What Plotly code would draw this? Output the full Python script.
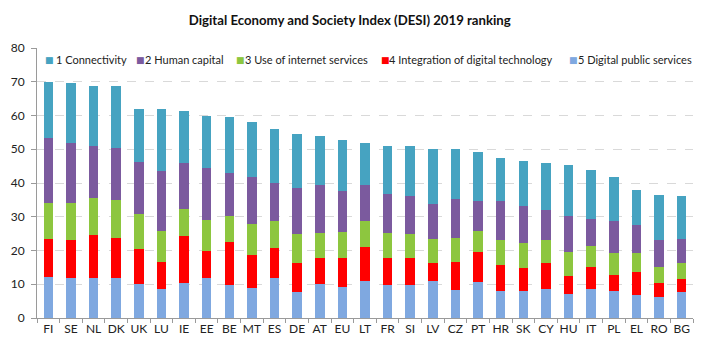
import plotly.graph_objects as go

countries = ["FI","SE","NL","DK","UK","LU","IE","EE","BE","MT","ES","DE","AT","EU","LT",
             "FR","SI","LV","CZ","PT","HR","SK","CY","HU","IT","PL","EL","RO","BG"]

digital_public = [12.1,11.8,11.8,11.8,10.0,8.6,10.4,11.8,9.7,9.0,11.8,7.6,10.0,9.3,11.1,
                  9.7,9.7,11.1,8.3,10.7,7.9,7.9,8.6,7.2,8.6,7.9,6.9,6.2,7.6]
integration = [11.4,11.4,12.7,12.0,10.4,8.0,13.8,8.0,12.8,9.7,8.9,8.7,7.7,8.4,10.0,
               8.0,8.0,5.2,8.4,8.8,7.7,7.0,7.7,5.3,6.6,4.9,6.6,4.3,3.9]
internet_use = [10.6,10.9,11.0,11.3,10.3,9.3,8.2,9.1,7.8,9.3,7.9,8.6,7.5,7.9,7.5,
                7.5,7.2,7.2,7.1,6.4,7.5,7.2,6.8,7.2,6.2,6.6,5.9,4.7,4.8]
human_capital = [19.2,17.8,15.4,15.2,15.4,17.6,13.4,15.5,12.8,13.8,11.4,13.7,14.1,11.9,10.7,
                 11.6,11.2,10.3,11.4,8.9,11.7,11.0,8.9,10.6,7.9,9.2,8.3,8.0,7.2]
connectivity = [16.6,17.6,17.9,18.5,15.9,18.5,15.4,15.5,16.5,16.4,16.1,15.8,14.7,15.2,12.7,
                14.1,14.8,16.2,14.8,14.4,12.7,13.3,13.8,15.1,14.5,13.1,10.2,13.3,12.6]

series = [
    ("5 Digital public services", digital_public, "#7FA8E0"),
    ("4 Integration of digital technology", integration, "#FF0000"),
    ("3 Use of internet services", internet_use, "#8DC63F"),
    ("2 Human capital", human_capital, "#7B5A9E"),
    ("1 Connectivity", connectivity, "#46A3C1"),
]
# legend layout (pixel positions in the figure): square x, text x
legend_pos = {"1 Connectivity": (35, 46), "2 Human capital": (126, 135),
              "3 Use of internet services": (226, 235),
              "4 Integration of digital technology": (371, 379),
              "5 Digital public services": (559, 568)}

# page body has an 8px margin, so the figure is sized to fit what is visible
W, H = 712, 353
L, R, T, B = 29, 27, 40, 43
pw, ph = W - L - R, H - T - B
legend_y = (H - B - 52) / ph

fig = go.Figure()
for name, vals, col in series:
    fig.add_trace(go.Bar(x=countries, y=vals, name=name, marker_color=col,
                         marker_line_width=0, showlegend=False))

annotations = []
for name, vals, col in series:
    sx, tx = legend_pos[name]
    annotations.append(dict(
        text="■", xref="paper", yref="paper", x=(sx - L) / pw, y=legend_y,
        xanchor="left", yanchor="middle", showarrow=False,
        font=dict(size=9, color=col, family="DejaVu Sans")))
    annotations.append(dict(
        text=name, xref="paper", yref="paper", x=(tx - L) / pw, y=legend_y,
        xanchor="left", yanchor="middle", showarrow=False,
        font=dict(size=11, color="#222222")))

fig.update_layout(
    width=W, height=H,
    barmode="stack", bargap=0.58,
    paper_bgcolor="white", plot_bgcolor="white",
    margin=dict(l=L, r=R, t=T, b=B, autoexpand=False),
    font=dict(family="Lato, Open Sans, sans-serif", size=12, color="#333333"),
    title=dict(text="<b>Digital Economy and Society Index (DESI) 2019 ranking</b>",
               x=0.48, xanchor="center", y=1 - 12 / H, yanchor="middle",
               font=dict(size=13.2, color="#111111")),
    annotations=annotations,
    showlegend=False,
)
fig.update_xaxes(showline=True, linecolor="#9a9a9a", ticks="outside", tickson="boundaries",
                 ticklen=4, tickcolor="#9a9a9a", tickangle=0, automargin=False,
                 tickfont=dict(size=12, color="#222222"))
fig.update_yaxes(range=[0, 80], dtick=10, showline=True, linecolor="#9a9a9a",
                 showgrid=True, gridcolor="#d9d9d9", griddash="dash", gridwidth=1,
                 ticks="outside", ticklen=5, tickcolor="#9a9a9a", ticklabelstandoff=4,
                 automargin=False,
                 tickfont=dict(size=12, color="#222222"), zeroline=False)

fig.write_html("out.html")
